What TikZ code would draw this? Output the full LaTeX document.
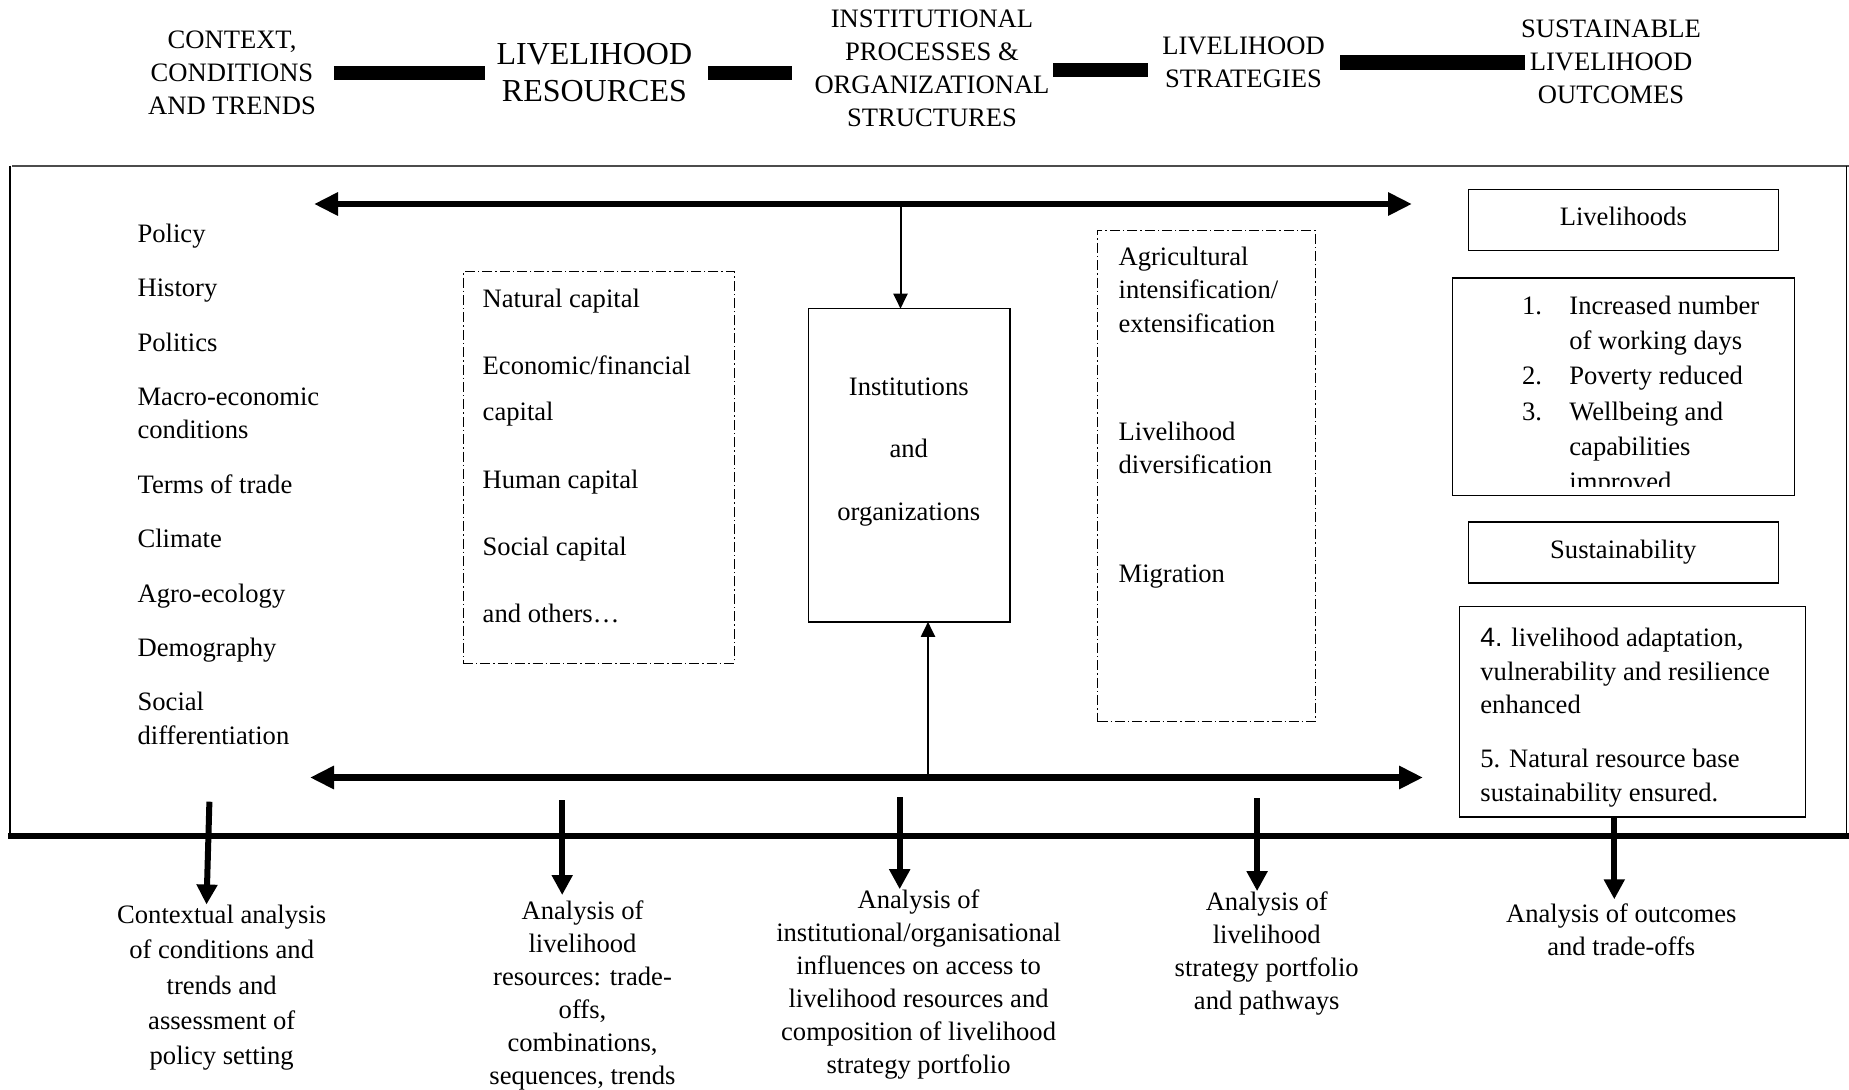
\documentclass[tikz,border=0pt]{standalone}
\usepackage{fontspec}
\setmainfont{Liberation Serif}
\setsansfont{Liberation Sans}
\usetikzlibrary{arrows.meta}
\tikzset{
  hdr/.style={align=center, inner sep=0pt, font=\fontsize{13.3}{16.5}\selectfont},
  hbar/.style={line width=7.2pt},
  body/.style={align=left, inner sep=0pt, anchor=north west, font=\fontsize{13.3}{16.7}\selectfont},
  note/.style={align=center, inner sep=0pt, anchor=north, font=\fontsize{13.3}{16.5}\selectfont},
  plainbox/.style={draw, line width=0.7pt, inner sep=0pt, outer sep=0pt},
  dashbox/.style={draw, line width=0.5pt, inner sep=0pt, outer sep=0pt, dash pattern=on 5pt off 1.5pt on 0.7pt off 1.5pt},
  dblarr/.style={line width=3.2pt, {Triangle[length=12pt,width=11pt]}-{Triangle[length=12pt,width=11pt]}},
  thinarr/.style={line width=1pt, -{Triangle[length=7.5pt,width=7pt]}},
  thickarr/.style={line width=3pt, -{Triangle[length=10pt,width=10pt]}}
}
\begin{document}
\begin{tikzpicture}[x=0.5pt,y=-0.5pt]
\useasboundingbox (0,0) rectangle (1849,1089);

\node[hdr] (hctx) at (232,73) {CONTEXT,\\ CONDITIONS\\ AND TRENDS};
\node[hdr, font=\fontsize{16}{18.5}\selectfont] (hres) at (594.4,73) {LIVELIHOOD\\ RESOURCES};
\node[hdr] (hinst) at (932,68.4) {INSTITUTIONAL\\ PROCESSES \&\\ ORGANIZATIONAL\\ STRUCTURES};
\node[hdr] (hstrat) at (1243.5,62.5) {LIVELIHOOD\\ STRATEGIES};
\node[hdr] (houtc) at (1611,61.5) {SUSTAINABLE\\ LIVELIHOOD\\ OUTCOMES};

\draw[hbar, shorten <=8.75pt, shorten >=5.85pt] (hctx.east) -- (hctx.east -| hres.west);
\draw[hbar, shorten <=7.9pt, shorten >=11.2pt] (hctx.east -| hres.east) -- (hctx.east -| hinst.west);
\draw[hbar, shorten <=1.7pt, shorten >=7.1pt] ([yshift=-0.8pt]hinst.east) -- ([yshift=-0.8pt]hinst.east -| hstrat.west);
\draw[hbar, shorten <=7.6pt, shorten >=-2.3pt] (hstrat.east) -- (hstrat.east -| houtc.west);

\draw[black!70, line width=0.8pt] (12,165.7) -- (1849,165.7);
\draw[line width=0.7pt] (10,165.7) -- (10,836);
\draw[line width=0.7pt] (1846.7,165.7) -- (1846.7,836);
\draw[line width=3pt] (8,836) -- (1849,836);

\node[body] (ctxlist) at (137.2,223.5) {Policy\\[10.5pt] History\\[10.5pt] Politics\\[10.5pt] Macro-economic\\ conditions\\[10.5pt] Terms of trade\\[10.5pt] Climate\\[10.5pt] Agro-ecology\\[10.5pt] Demography\\[10.5pt] Social\\ differentiation};

\node[dashbox, minimum width=135.7pt, minimum height=195.55pt] (natbox) at (598.7,467.45) {};
\node[body, font=\fontsize{13.3}{23.2}\selectfont] (nattxt) at (482.3,288.5) {Natural capital\\[10.4pt] Economic/financial\\ capital\\[10.4pt] Human capital\\[10.4pt] Social capital\\[10.4pt] and others…};

\node[plainbox, minimum width=100.9pt, minimum height=156.55pt] (inst) at (909.1,465.25) {};
\node[align=center, inner sep=0pt, font=\fontsize{13.3}{31.45}\selectfont] (insttxt) at (908.8,452) {Institutions\\ and\\ organizations};

\node[dashbox, minimum width=108.95pt, minimum height=245.65pt] (stratbox) at (1206.45,475.95) {};
\node[body, font=\fontsize{13.3}{16.6}\selectfont] (strattxt) at (1118.2,246.9) {Agricultural\\ intensification/\\ extensification\\[37.6pt] Livelihood\\ diversification\\[37.6pt] Migration};

\node[plainbox, minimum width=155pt, minimum height=30.35pt] (livbox) at (1623.3,219.85) {};
\node[inner sep=0pt, font=\fontsize{13.3}{16}\selectfont] (livtxt) at (1623.3,216) {Livelihoods};
\node[plainbox, minimum width=170.8pt, minimum height=108.6pt] (listbox) at (1623.5,386.6) {};
\begin{scope}
\clip (listbox.north west) rectangle ([yshift=4.6pt]listbox.south east);
\node[body, font=\fontsize{13.3}{17.55}\selectfont] (listtxt) at (1521.7,295.9) {\makebox[23.65pt][l]{1.}Increased number\\ \hspace*{23.65pt}of working days\\ \makebox[23.65pt][l]{2.}Poverty reduced\\ \makebox[23.65pt][l]{3.}Wellbeing and\\ \hspace*{23.65pt}capabilities\\ \hspace*{23.65pt}improved};
\end{scope}
\node[plainbox, minimum width=155pt, minimum height=30.35pt, font=\fontsize{13.3}{16}\selectfont] (susbox) at (1623.3,552.45) {Sustainability};
\node[plainbox, minimum width=173.2pt, minimum height=105.15pt] (outbox) at (1632.5,711.85) {};
\node[body, font=\fontsize{13.3}{16.8}\selectfont] (outtxt) at (1480,627.6) {{\sffamily 4.} livelihood adaptation,\\ vulnerability and resilience\\ enhanced\\[10.3pt] 5. Natural resource base\\ sustainability ensured.};

\node[note, font=\fontsize{13.3}{17.7}\selectfont] (ana1) at (221.7,904.5) {Contextual analysis\\ of conditions and\\ trends and\\ assessment of\\ policy setting};
\node[note] (ana2) at (582.5,900) {Analysis of\\ livelihood\\ resources: trade-\\ offs,\\ combinations,\\ sequences, trends};
\node[note] (ana3) at (918.6,889.2) {Analysis of\\ institutional/organisational\\ influences on access to\\ livelihood resources and\\ composition of livelihood\\ strategy portfolio};
\node[note] (ana4) at (1266.7,891.1) {Analysis of\\ livelihood\\ strategy portfolio\\ and pathways};
\node[note] (ana5) at (1621.3,903.3) {Analysis of outcomes\\ and trade-offs};

\coordinate (topL) at (314,204);
\coordinate (topR) at (1412,204);
\coordinate (botL) at (310,777.5);
\coordinate (botR) at (1423,777.5);
\coordinate (tapdn) at (900.5,204);
\coordinate (tapup) at (928,777.5);
\coordinate (a1) at (209.4,801.7);
\coordinate (a2) at (562.2,800);
\coordinate (a3) at (899.7,797.3);
\coordinate (a4) at (1257.1,798.3);

\draw[thinarr] (tapdn) -- (tapdn |- inst.north);
\draw[thinarr] (tapup) -- (tapup |- inst.south);
\draw[dblarr] (topL) -- (topR);
\draw[dblarr] (botL) -- (botR);

\draw[thickarr] (a1) -- ([xshift=-7.6pt]ana1.north);
\draw[thickarr, shorten >=2.5pt] (a2) -- (a2 |- ana2.north);
\draw[thickarr] (a3) -- (a3 |- ana3.north);
\draw[thickarr] (a4) -- (a4 |- ana4.north);
\draw[thickarr, shorten >=2pt] ([xshift=-9.1pt]outbox.south) -- ([xshift=-3.5pt]ana5.north);
\end{tikzpicture}
\end{document}
